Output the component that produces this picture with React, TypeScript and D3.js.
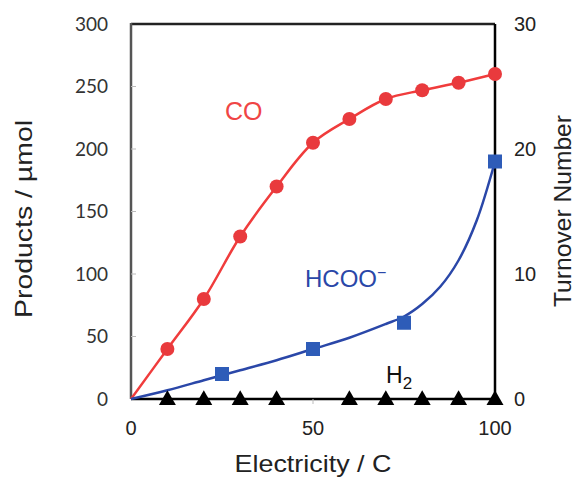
import React from "react";
import * as d3 from "d3";

const coX = [10, 20, 30, 40, 50, 60, 70, 80, 90, 100];
const coY = [40, 80, 130, 170, 205, 224, 240, 247, 253, 260];

const hcooX = [25, 50, 75, 100];
const hcooY = [20, 40, 61, 190];

// fitted curve for HCOO-
const hcooFitX = [0, 10, 20, 30, 40, 50, 60, 70, 75, 80, 85, 90, 95, 100];
const hcooFitY = [0, 7, 15, 23, 31, 40, 49, 60, 66, 76, 90, 111, 143, 190];

const h2X = [10, 20, 30, 40, 60, 70, 80, 90, 100];
const h2Y = [0, 0, 0, 0, 0, 0, 0, 0, 0];

const leftTicks = [0, 50, 100, 150, 200, 250, 300];
const rightTicks = [0, 10, 20, 30];
const bottomTicks = [0, 50, 100];

export default function App() {
  const W = 575, H = 477;
  const x0 = 131, x1 = 495, y0 = 24, y1 = 399;
  const x = d3.scaleLinear().domain([0, 100]).range([x0, x1]);
  const y = d3.scaleLinear().domain([0, 300]).range([y1, y0]);
  const yR = d3.scaleLinear().domain([0, 30]).range([y1, y0]);

  const smooth = d3
    .line<[number, number]>()
    .x((d) => x(d[0]))
    .y((d) => y(d[1]))
    .curve(d3.curveCatmullRom.alpha(0.5));
  const coPts: [number, number][] = [[0, 0], ...coX.map((v, i) => [v, coY[i]] as [number, number])];
  const hcooPts: [number, number][] = hcooFitX.map((v, i) => [v, hcooFitY[i]]);

  const tri = d3.symbol().type(d3.symbolTriangle).size(125)();
  const arial = "'Liberation Sans', Arial, sans-serif";
  const calib = "Lato, 'Open Sans', sans-serif";

  return (
    <svg
      width={W}
      height={H}
      style={{ position: "absolute", left: 0, top: 0, background: "#fff" }}
    >
      {/* frame */}
      <line x1={x0} y1={y0} x2={x1} y2={y0} stroke="#222" strokeWidth={2.5} />
      <line x1={x1} y1={y0} x2={x1} y2={y1} stroke="#000" strokeWidth={2.5} />
      <line x1={x0} y1={y1} x2={x1} y2={y1} stroke="#000" strokeWidth={2.5} />
      <line x1={x0} y1={y0 - 1} x2={x0} y2={y1} stroke="#555" strokeWidth={2.5} />

      {/* left ticks */}
      {leftTicks.map((t) => (
        <g key={"l" + t}>
          {t > 0 && t < 300 && (
            <line x1={x0} x2={x0 + 5} y1={y(t)} y2={y(t)} stroke="#bbb" strokeWidth={1} />
          )}
          <text
            x={108}
            y={y(t)}
            dy="0.35em"
            textAnchor="end"
            fontFamily={calib}
            fontSize={19}
            fill="#333"
          >
            {t}
          </text>
        </g>
      ))}
      {/* bottom ticks */}
      {bottomTicks.map((t) => (
        <g key={"b" + t}>
          {t === 50 && (
            <line x1={x(t)} x2={x(t)} y1={y1} y2={y1 + 5} stroke="#bbb" strokeWidth={1} />
          )}
          <text
            x={x(t)}
            y={435}
            textAnchor="middle"
            fontFamily={arial}
            fontSize={20}
            fill="#222"
          >
            {t}
          </text>
        </g>
      ))}
      {/* right ticks */}
      {rightTicks.map((t) => (
        <text
          key={"r" + t}
          x={514}
          y={yR(t)}
          dy="0.35em"
          fontFamily={arial}
          fontSize={20}
          fill="#222"
        >
          {t}
        </text>
      ))}

      {/* axis titles */}
      <text
        x={313}
        y={472}
        textAnchor="middle"
        fontFamily={arial}
        fontSize={24}
        fill="#222"
        textLength={157}
        lengthAdjust="spacingAndGlyphs"
      >
        Electricity / C
      </text>
      <text
        transform={`translate(32,219) rotate(-90)`}
        textAnchor="middle"
        fontFamily={arial}
        fontSize={24}
        fill="#222"
        textLength={198}
        lengthAdjust="spacingAndGlyphs"
      >
        Products / µmol
      </text>
      <text
        transform={`translate(571,211) rotate(-90)`}
        textAnchor="middle"
        fontFamily={arial}
        fontSize={24}
        fill="#222"
        textLength={192}
        lengthAdjust="spacingAndGlyphs"
      >
        Turnover Number
      </text>

      {/* CO */}
      <path d={smooth(coPts) || ""} fill="none" stroke="#f03c3c" strokeWidth={2.5} />
      {coX.map((v, i) => (
        <circle key={"c" + v} cx={x(v)} cy={y(coY[i])} r={7} fill="#e93a3d" />
      ))}

      {/* HCOO- */}
      <path d={smooth(hcooPts) || ""} fill="none" stroke="#2a47a8" strokeWidth={2.5} />
      {hcooX.map((v, i) => (
        <rect
          key={"s" + v}
          x={x(v) - 7}
          y={y(hcooY[i]) - 7}
          width={14}
          height={14}
          fill="#2e5cb8"
        />
      ))}

      {/* H2 */}
      {h2X.map((v, i) => (
        <path key={"t" + v} d={tri || ""} transform={`translate(${x(v)},${y(h2Y[i]) + 1})`} fill="#000" />
      ))}

      {/* labels */}
      <text x={225} y={120} fontFamily={arial} fontSize={25} fill="#f04545">
        CO
      </text>
      <text x={305} y={287} fontFamily={arial} fontSize={24} fill="#2a47a8">
        HCOO
        <tspan dy={-9} fontSize={16}>
          −
        </tspan>
      </text>
      <text x={386} y={383} fontFamily={arial} fontSize={23} fill="#111">
        H
        <tspan dy={6} fontSize={17}>
          2
        </tspan>
      </text>
    </svg>
  );
}
